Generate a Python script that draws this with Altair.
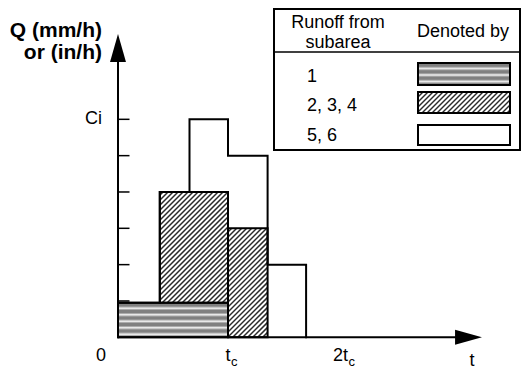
import math
import altair as alt
import pandas as pd

# ---------------- data (t in units of tc, Q in units where Ci = 6) ----------------
t_start = [0.00, 0.38, 0.65, 1.00, 1.36]
t_end = [0.38, 0.65, 1.00, 1.36, 1.71]
q_sub1 = [0.95, 0.95, 0.95, 0.00, 0.00]      # runoff from subarea 1
q_sub234 = [0.00, 3.05, 3.05, 3.00, 0.00]    # runoff from subareas 2, 3, 4
q_sub56 = [0.00, 0.00, 2.00, 2.00, 2.00]     # runoff from subareas 5, 6

y_tick_values = [1, 2, 3, 4, 5, 6]
y_label_text = "Ci"
y_label_value = 6
x_label_pos = [0, 1, 2]
x_label_main = ["0", "t", "2t"]
x_label_sub = ["", "c", "c"]
x_axis_title = "t"
y_axis_title = ["Q (mm/h)", "or (in/h)"]
legend_header_left = ["Runoff from", "subarea"]
legend_header_right = "Denoted by"
legend_rows = ["1", "2, 3, 4", "5, 6"]

# ---------------- layout (page pixels -> data units) ----------------
ORIGIN_X, ORIGIN_Y = 118.0, 337.3
PX_T, PX_Q = 110.0, 36.33
W, H = 513, 360
FONT = "Liberation Sans"


def T(px):
    return (px - ORIGIN_X) / PX_T


def Q(py):
    return (ORIGIN_Y - py) / PX_Q


def PXX(t):
    return ORIGIN_X + t * PX_T


def PXY(q):
    return ORIGIN_Y - q * PX_Q


XS = alt.Scale(domain=[T(8), T(8 + W)], nice=False, zero=False)
YS = alt.Scale(domain=[Q(8 + H), Q(8)], nice=False, zero=False)


def blocks(values, bases):
    out = []
    for i, (v, b) in enumerate(zip(values, bases)):
        if v == 0:
            continue
        if out and abs(out[-1]["t1"] - t_start[i]) < 1e-9 and out[-1]["q0"] == b and out[-1]["q1"] == b + v:
            out[-1]["t1"] = t_end[i]
        else:
            out.append(dict(t0=t_start[i], t1=t_end[i], q0=b, q1=b + v))
    return out


base1 = [0.0] * len(t_start)
base234 = list(q_sub1)
b1 = blocks(q_sub1, base1)
b234 = blocks(q_sub234, base234)
total = [a + b + c for a, b, c in zip(q_sub1, q_sub234, q_sub56)]


def hatch_segments(x0, x1, y0, y1, step=5.0):
    segs = []
    c = math.ceil((x0 + y0) / step) * step
    while c < x1 + y1:
        xs = max(x0, c - y1)
        xe = min(x1, c - y0)
        if xe > xs:
            segs.append(dict(t0=T(xs), q0=Q(c - xs), t1=T(xe), q1=Q(c - xe)))
        c += step
    return segs


def stripe_lines(x0, x1, y0, y1, first=5.5, step=6.5):
    segs = []
    y = y0 + first
    while y < y1 - 1.5:
        segs.append(dict(t0=T(x0), t1=T(x1), q0=Q(y), q1=Q(y)))
        y += step
    return segs


def rect_layer(rows, **mk):
    return alt.Chart(pd.DataFrame(rows)).mark_rect(**mk).encode(
        x=alt.X("t0:Q", scale=XS, axis=None), x2="t1:Q",
        y=alt.Y("q0:Q", scale=YS, axis=None), y2="q1:Q")


def rule_layer(rows, **mk):
    return alt.Chart(pd.DataFrame(rows)).mark_rule(**mk).encode(
        x=alt.X("t0:Q", scale=XS, axis=None), x2="t1:Q",
        y=alt.Y("q0:Q", scale=YS, axis=None), y2="q1:Q")


def text_layer(rows, **mk):
    props = dict(font=FONT, fontSize=18, color="black", baseline="alphabetic")
    props.update(mk)
    return alt.Chart(pd.DataFrame(rows)).mark_text(**props).encode(
        x=alt.X("t:Q", scale=XS, axis=None),
        y=alt.Y("q:Q", scale=YS, axis=None),
        text="label:N")


layers = []

# --- legend geometry (page px) ---
TB = dict(x0=274, x1=520, y0=9, y1=150, div=52)
SW_X0, SW_X1 = 418, 510
SW_Y = [(63, 85), (92, 113), (125, 145)]

# --- fills: subarea 1 striped band ---
band_rects = list(b1) + [dict(t0=T(SW_X0), t1=T(SW_X1), q0=Q(SW_Y[0][1]), q1=Q(SW_Y[0][0]))]
layers.append(rect_layer(band_rects, fill="#808080"))
stripes = []
for b in b1:
    stripes += stripe_lines(PXX(b["t0"]), PXX(b["t1"]), PXY(b["q1"]), PXY(b["q0"]))
stripes += stripe_lines(SW_X0, SW_X1, SW_Y[0][0], SW_Y[0][1])
layers.append(rule_layer(stripes, color="#ababab", strokeWidth=3.6))
layers.append(rule_layer(stripes, color="#e8e8e8", strokeWidth=1.5))

# --- fills: subareas 2,3,4 hatched ---
hatch_rects = list(b234) + [dict(t0=T(SW_X0), t1=T(SW_X1), q0=Q(SW_Y[1][1]), q1=Q(SW_Y[1][0]))]
layers.append(rect_layer(hatch_rects, fill="white"))
hatch = []
for b in hatch_rects:
    hatch += hatch_segments(PXX(b["t0"]), PXX(b["t1"]), PXY(b["q1"]), PXY(b["q0"]))
layers.append(rule_layer(hatch, color="#2a2a2a", strokeWidth=1.5))

# --- outlines ---
layers.append(rect_layer(list(b1) + list(b234), fill=None, fillOpacity=0, stroke="black", strokeWidth=2))
env = [dict(t=t_start[0], q=0.0)]
for i in range(len(t_start)):
    env.append(dict(t=t_start[i], q=total[i]))
    env.append(dict(t=t_end[i], q=total[i]))
env.append(dict(t=t_end[-1], q=0.0))
env = pd.DataFrame(env)
env["i"] = range(len(env))
layers.append(alt.Chart(env).mark_line(color="black", strokeWidth=2, strokeCap="square", strokeJoin="miter").encode(
    x=alt.X("t:Q", scale=XS, axis=None), y=alt.Y("q:Q", scale=YS, axis=None), order="i:Q"))

# --- axes ---
axis_lines = [dict(t0=0, t1=0, q0=0, q1=Q(60)), dict(t0=0, t1=T(458), q0=0, q1=0)]
layers.append(rule_layer(axis_lines, color="black", strokeWidth=2))
ticks = [dict(t0=0, t1=T(129.5), q0=v, q1=v) for v in y_tick_values]
layers.append(rule_layer(ticks, color="black", strokeWidth=1.5))
arrows = pd.DataFrame([dict(t=0, q=Q(48), s="M0,-1L0.57,1L-0.57,1Z"),
                       dict(t=T(468.5), q=0, s="M0.96,0L-0.96,-0.54L-0.96,0.54Z")])
layers.append(alt.Chart(arrows).mark_point(filled=True, size=784, color="black", opacity=1, strokeWidth=0).encode(
    x=alt.X("t:Q", scale=XS, axis=None), y=alt.Y("q:Q", scale=YS, axis=None),
    shape=alt.Shape("s:N", scale=None)))

# --- axis texts ---
layers.append(text_layer([dict(t=T(102), q=Q(37), label=y_axis_title[0]),
                          dict(t=T(102), q=Q(59), label=y_axis_title[1])],
                         align="right", fontWeight="bold", fontSize=21))
layers.append(text_layer([dict(t=T(102), q=y_label_value, label=y_label_text)], align="right", baseline="middle"))
main_offsets = [-17.0, 2.5, 10.0]   # px from tick to right edge / centre of main text
main_rows, sub_rows = [], []
for p, m, s, off in zip(x_label_pos, x_label_main, x_label_sub, main_offsets):
    if s:
        main_rows.append(dict(t=p + off / PX_T, q=Q(361), label=m))
        sub_rows.append(dict(t=p + (off + 0.5) / PX_T, q=Q(365.5), label=s))
    else:
        layers.append(text_layer([dict(t=p + off / PX_T, q=Q(361), label=m)], align="center"))
layers.append(text_layer(main_rows, align="right"))
layers.append(text_layer(sub_rows, align="left", fontSize=13))
layers.append(text_layer([dict(t=T(472), q=Q(365.5), label=x_axis_title)], align="center"))

# --- legend table ---
layers.append(rect_layer([dict(t0=T(TB["x0"]), t1=T(TB["x1"]), q0=Q(TB["y1"]), q1=Q(TB["y0"]))],
                         fill=None, fillOpacity=0, stroke="black", strokeWidth=2))
layers.append(rule_layer([dict(t0=T(TB["x0"]), t1=T(TB["x1"]), q0=Q(TB["div"]), q1=Q(TB["div"]))],
                         color="black", strokeWidth=1.5))
sw_rects = [dict(t0=T(SW_X0), t1=T(SW_X1), q0=Q(y1), q1=Q(y0)) for (y0, y1) in SW_Y]
layers.append(rect_layer(sw_rects, fill=None, fillOpacity=0, stroke="black", strokeWidth=2))
layers.append(text_layer([dict(t=T(338), q=Q(28), label=legend_header_left[0]),
                          dict(t=T(338), q=Q(48), label=legend_header_left[1]),
                          dict(t=T(463), q=Q(37), label=legend_header_right)], align="center"))
row_base = [82, 111, 141]
layers.append(text_layer([dict(t=T(307), q=Q(yb), label=lab) for yb, lab in zip(row_base, legend_rows)],
                         align="left"))

chart = alt.layer(*layers).properties(
    width=W, height=H, padding=0, autosize=alt.AutoSizeParams(type="none")
).configure_view(stroke=None)

chart.save("out.html", embed_options={"renderer": "svg", "actions": False})
